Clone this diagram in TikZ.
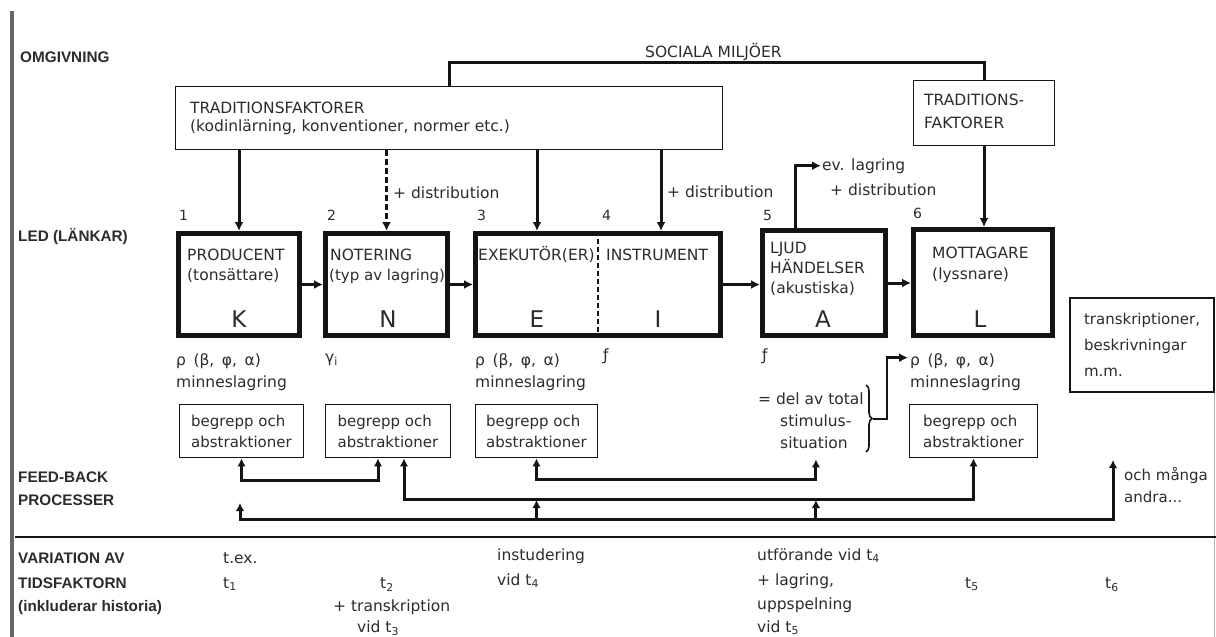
\documentclass[tikz,border=0pt]{standalone}
\usepackage{fontspec}
\setmainfont{DejaVu Sans}
\newfontfamily\hfont{Liberation Sans}
\usetikzlibrary{arrows.meta,calc,decorations.pathreplacing}
\definecolor{ink}{HTML}{2C2C2C}
\definecolor{lin}{HTML}{141414}
\begin{document}
\begin{tikzpicture}[x=1pt,y=-1pt,
  txt/.style={anchor=base west,inner sep=0pt,text=ink,font=\fontsize{15.5}{18}\selectfont},
  head/.style={anchor=base west,inner sep=0pt,text=ink,font=\hfont\bfseries\fontsize{15.3}{18}\selectfont},
  big/.style={anchor=base,inner sep=0pt,text=ink,font=\fontsize{23}{26}\selectfont},
  num/.style={anchor=base west,inner sep=0pt,text=ink,font=\fontsize{14}{16}\selectfont},
  mainbox/.style={draw=lin,line width=5pt,inner sep=0pt},
  thinbox/.style={draw=lin,line width=1.8pt,inner sep=0pt,text=ink,align=left},
  arr/.style={draw=lin,line width=3pt,-{Latex[length=9pt,width=9pt]}},
  fb/.style={draw=lin,line width=3pt,>={Latex[length=8pt,width=8.5pt]}},
]
\path[use as bounding box,fill=white] (0,0) rectangle (1216,637);

% frame lines
\draw[line width=4pt,draw=black!60] (12,11) -- (12,637);
\draw[line width=1pt,draw=black!30] (1214,392) -- (1214,637);
\draw[lin,line width=1.8pt] (15,537) -- (1216,537);

% left headings
\node[head] (omg) at (20,62) {OMGIVNING};
\node[head] (led) at (18,241) {LED (LÄNKAR)};
\node[head] (fbA) at (18,482) {FEED-BACK};
\node[head] (fbB) at (18,505) {PROCESSER};
\node[head] (varA) at (18,563) {VARIATION AV};
\node[head] (varB) at (18,588) {TIDSFAKTORN};
\node[head] (varC) at (18,611) {(inkluderar historia)};

% environment
\node[txt] (soc) at (645,57) {SOCIALA MILJÖER};
\node[thinbox,minimum width=547pt,minimum height=63pt] (trad) at (449,118) {};
\node[txt] at (190,113) {TRADITIONSFAKTORER};
\node[txt] at (190,131) {(kodinlärning, konventioner, normer etc.)};
\node[thinbox,minimum width=141pt,minimum height=65pt] (trad2) at (984,113) {};
\node[txt] at (924,105) {TRADITIONS-};
\node[txt] at (924,128) {FAKTORER};
\draw[lin,line width=3pt] (trad.north) -- ++(0,-23) -| (trad2.north);

% main boxes
\node[mainbox,minimum width=121pt,minimum height=102pt] (K) at (239,284.5) {};
\node[mainbox,minimum width=122pt,minimum height=102pt] (N) at (386.5,284.5) {};
\node[mainbox,minimum width=245pt,minimum height=102pt] (EI) at (598,284.5) {};
\node[mainbox,minimum width=123pt,minimum height=105pt] (A) at (824,283) {};
\node[mainbox,minimum width=139pt,minimum height=106pt] (L) at (983,282.5) {};
\draw[lin,line width=1.6pt,dash pattern=on 5pt off 3pt] (EI.north) -- (EI.south);

\node[num] at (179,220) {1};
\node[num] at (327,220) {2};
\node[num] at (477,220) {3};
\node[num] at (602,220) {4};
\node[num] at (763,220) {5};
\node[num] at (913,218) {6};

\node[txt] at (187,260) {PRODUCENT};
\node[txt] at (187,280) {(tonsättare)};
\node[big] at (239,327) {K};
\node[txt] at (330,260) {NOTERING};
\node[txt,font=\fontsize{15}{18}\selectfont] at (329,280) {(typ av lagring)};
\node[big] at (388,327) {N};
\node[txt] at (478,260) {EXEKUTÖR(ER)};
\node[txt] at (606,260) {INSTRUMENT};
\node[big] at (537,327) {E};
\node[big] at (658,327) {I};
\node[txt] at (770,253) {LJUD};
\node[txt] at (770,273) {HÄNDELSER};
\node[txt] at (770,293) {(akustiska)};
\node[big] at (823,327) {A};
\node[txt] at (932,258) {MOTTAGARE};
\node[txt] at (932,279) {(lyssnare)};
\node[big] at (980,327) {L};

% arrows from traditions
\coordinate (Etop) at (537,231);
\coordinate (Itop) at (661,231);
\draw[arr] (trad.south -| K.north) -- (K.north);
\draw[arr,dash pattern=on 6pt off 3pt] (trad.south -| N.north) -- (N.north);
\draw[arr] (trad.south -| Etop) -- (Etop);
\draw[arr] (trad.south -| Itop) -- (Itop);
\draw[arr] (trad2.south) -- (trad2.south |- L.north);
\node[txt] (dist1) at (393,198) {+ distribution};
\node[txt] (dist2) at (667,197) {+ distribution};

\node[txt] (evl) at (822,170) {ev. lagring};
\node[txt] (evd) at (830,195) {+ distribution};
\draw[arr,shorten >=1pt] ($(A.north)+(-29,0)$) |- (evl.west);

% chain arrows
\draw[arr] (K.east) -- (K.east -| N.west);
\draw[arr] (N.east) -- (N.east -| EI.west);
\draw[arr] (EI.east) -- (EI.east -| A.west);
\draw[arr] (A.east) -- (A.east -| L.west);

% under boxes
\node[txt] at (176,365) {ρ \,(β, \,φ, \,α)};
\node[txt] at (176,387) {minneslagring};
\node[txt] at (325,362) {γ\textsubscript{i}};
\node[txt] at (475,365) {ρ \,(β, \,φ, \,α)};
\node[txt] at (475,387) {minneslagring};
\node[txt] at (603,360) {ƒ};
\node[txt] at (762,360) {ƒ};
\node[txt] (rhoL) at (910,365) {ρ \,(β, \,φ, \,α)};
\node[txt] at (910,387) {minneslagring};

\node[txt] at (758,404) {= del av total};
\node[txt] at (780,426) {stimulus-};
\node[txt] (sit) at (780,448) {situation};
\draw[lin,line width=1.6pt,decorate,decoration={brace,amplitude=6pt}] (866,385) -- (866,452);
\coordinate (btip) at (873,419);
\draw[arr,line width=2.6pt] (btip) -- ++(14,0) |- ($(rhoL.west)+(-2,-3)$);

% transcription box
\node[thinbox,minimum width=144pt,minimum height=94pt,font=\fontsize{15}{26}\selectfont] (tr) at (1142,345) {transkriptioner,\\beskrivningar\\m.m.};

% concept boxes
\node[thinbox,minimum width=124pt,minimum height=53pt,font=\fontsize{15}{21}\selectfont] (b1) at (241.5,431) {begrepp och\\abstraktioner};
\node[thinbox,minimum width=125pt,minimum height=53pt,font=\fontsize{15}{21}\selectfont] (b2) at (388,431) {begrepp och\\abstraktioner};
\node[thinbox,minimum width=122pt,minimum height=53pt,font=\fontsize{15}{21}\selectfont] (b3) at (536.5,431) {begrepp och\\abstraktioner};
\node[thinbox,minimum width=128pt,minimum height=53pt,font=\fontsize{15}{21}\selectfont] (b4) at (973.5,431) {begrepp och\\abstraktioner};

% feedback processes
\coordinate (lineD) at (0,519);
\coordinate (lineC) at (0,499);
\coordinate (sitin) at ($(sit.south)+(2,11)$);
\coordinate (fdL) at (240,503);
\coordinate (fdR) at (1113,460);
\draw[fb,<->] (b1.south) -- ++(0,22) -| ($(b2.south)+(-10,0)$);
\draw[fb,<->] (b3.south) -- ++(0,21) -| (sitin);
\draw[fb,<->] ($(b2.south)+(16,0)$) -- ++(0,41) -| (b4.south);
\draw[fb,<->] (fdL) -- ++(0,16) -| (fdR);
\draw[fb,->] (b3.south |- lineD) -- ($(b3.south |- lineC)+(0,1)$);
\draw[fb,->] (sitin |- lineD) -- ($(sitin |- lineC)+(0,1)$);
\node[txt,font=\fontsize{15}{18}\selectfont] at (1124,480) {och många};
\node[txt,font=\fontsize{15}{18}\selectfont] at (1124,502) {andra...};

% time factor
\node[txt] at (223,563) {t.ex.};
\node[txt] at (223,588) {t\textsubscript{1}};
\node[txt] at (380,588) {t\textsubscript{2}};
\node[txt] at (333,611) {+ transkription};
\node[txt] at (357,632) {vid t\textsubscript{3}};
\node[txt] at (497,560) {instudering};
\node[txt] at (497,585) {vid t\textsubscript{4}};
\node[txt] at (757,560) {utförande vid t\textsubscript{4}};
\node[txt] at (757,585) {+ lagring,};
\node[txt] at (757,609) {uppspelning};
\node[txt] at (757,632) {vid t\textsubscript{5}};
\node[txt] at (965,588) {t\textsubscript{5}};
\node[txt] at (1105,588) {t\textsubscript{6}};
\end{tikzpicture}
\end{document}
